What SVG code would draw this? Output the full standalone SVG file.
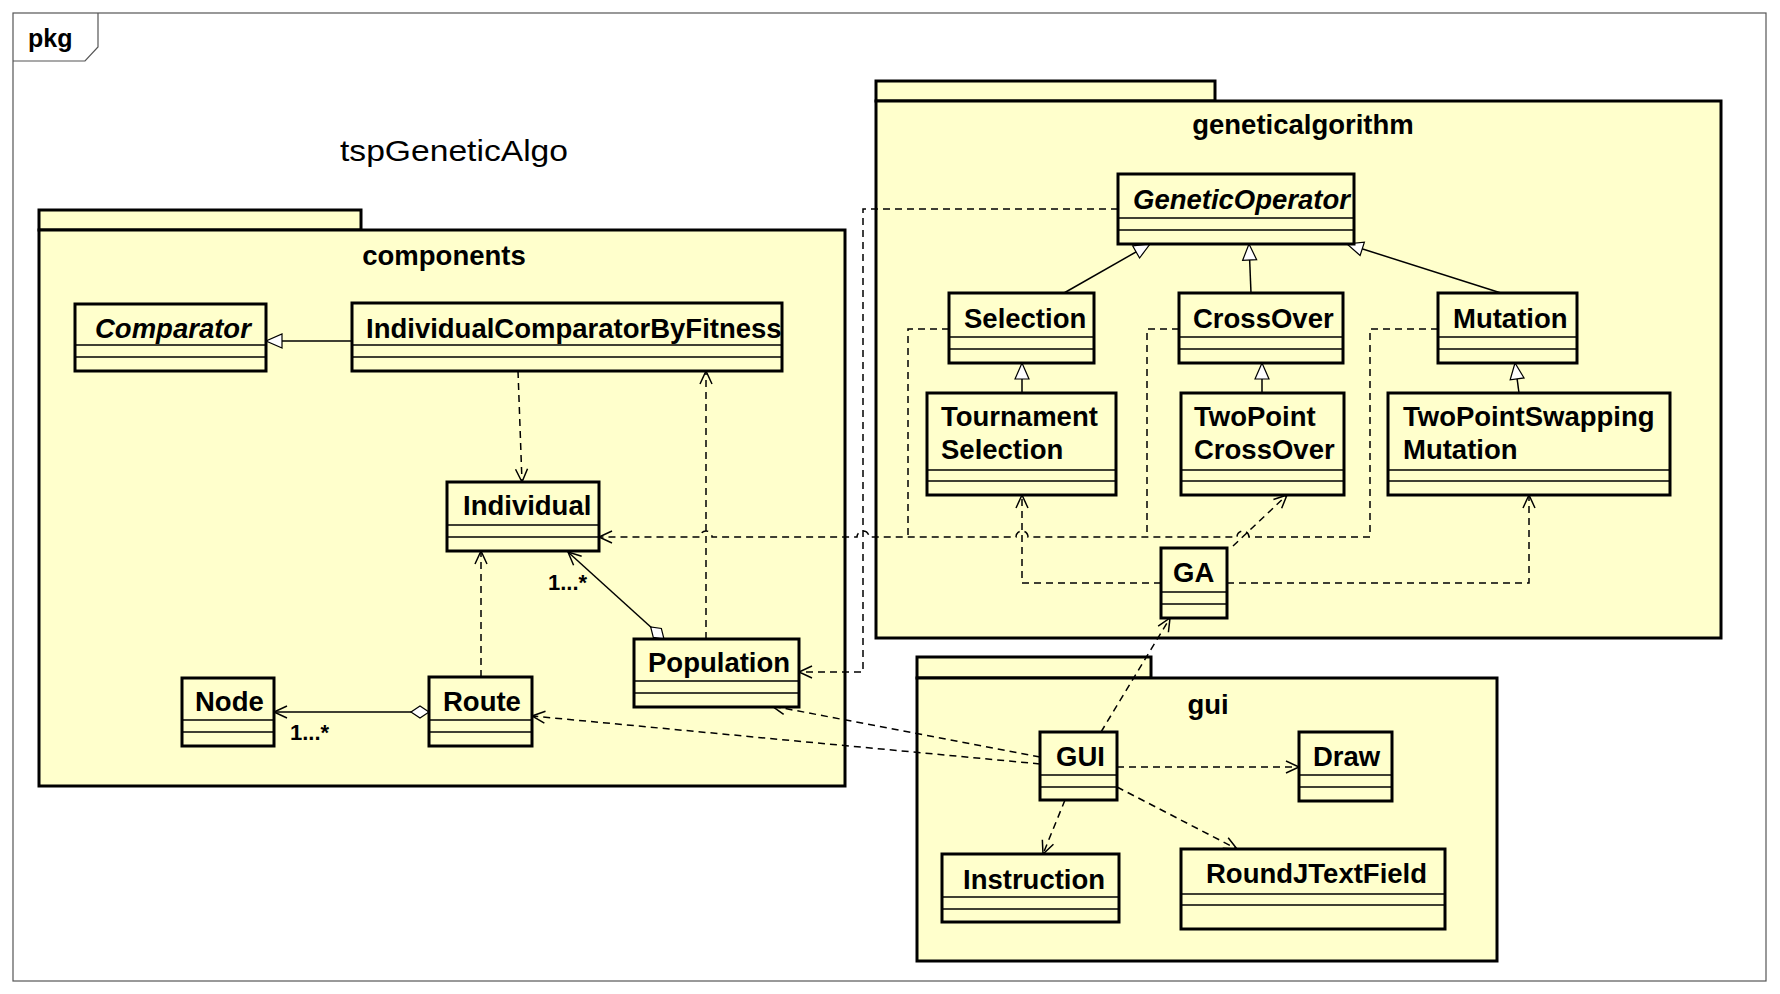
<svg xmlns="http://www.w3.org/2000/svg" width="1780" height="994" viewBox="0 0 1780 994">
  <style>
    .frame { fill: #ffffff; stroke: #555555; stroke-width: 1.2; }
    .pkg { fill: #ffffcc; stroke: #000000; stroke-width: 3; }
    .cls { fill: #ffffcc; stroke: #000000; stroke-width: 3; }
    .sep { stroke: #000000; stroke-width: 1.5; }
    .name { font-family: "Liberation Sans", Arial, sans-serif; font-weight: bold; font-size: 27.5px; fill: #000000; }
    .abstract { font-style: italic; }
    .plabel { font-family: "Liberation Sans", Arial, sans-serif; font-weight: bold; font-size: 27.5px; fill: #000000; text-anchor: middle; }
    .mult { font-family: "Liberation Sans", Arial, sans-serif; font-weight: bold; font-size: 22px; fill: #000000; }
    .dep { fill: none; stroke: #000000; stroke-width: 1.5; stroke-dasharray: 7 5; marker-end: url(#open); }
    .dashed { fill: none; stroke: #000000; stroke-width: 1.5; stroke-dasharray: 7 5; }
    .gen { fill: none; stroke: #000000; stroke-width: 1.5; marker-end: url(#tri); }
    .agg { fill: none; stroke: #000000; stroke-width: 1.5; marker-start: url(#diamond); marker-end: url(#open); }
  </style>
  <defs>
    <marker id="open" markerUnits="userSpaceOnUse" markerWidth="20" markerHeight="20" refX="13" refY="6" orient="auto" overflow="visible">
      <path d="M0,0 L13,6 L0,12" fill="none" stroke="#000000" stroke-width="1.5"/>
    </marker>
    <marker id="tri" markerUnits="userSpaceOnUse" markerWidth="20" markerHeight="20" refX="16" refY="7" orient="auto" overflow="visible">
      <path d="M0,0 L16,7 L0,14 Z" fill="#ffffff" stroke="#000000" stroke-width="1.2"/>
    </marker>
    <marker id="diamond" markerUnits="userSpaceOnUse" markerWidth="22" markerHeight="14" refX="0" refY="6" orient="auto" overflow="visible">
      <path d="M0,6 L9,0 L18,6 L9,12 Z" fill="#ffffff" stroke="#000000" stroke-width="1.2"/>
    </marker>
  </defs>

  <rect width="1780" height="994" fill="#ffffff"/>

  <!-- diagram frame -->
  <g id="frame">
    <rect class="frame" x="13" y="13" width="1753" height="968"/>
    <path d="M13,61 L85,61 L98,47 L98,13" fill="none" stroke="#555555" stroke-width="1.2"/>
    <text x="28" y="47" font-family="Liberation Sans, Arial, sans-serif" font-weight="bold" font-size="25">pkg</text>
    <text x="340" y="161" font-family="Liberation Sans, Arial, sans-serif" font-size="29" textLength="228" lengthAdjust="spacingAndGlyphs">tspGeneticAlgo</text>
  </g>

  <!-- packages -->
  <g id="pkg-components">
    <rect class="pkg" x="39" y="210" width="322" height="20"/>
    <rect class="pkg" x="39" y="230" width="806" height="556"/>
    <text class="plabel" x="444" y="265">components</text>
  </g>
  <g id="pkg-geneticalgorithm">
    <rect class="pkg" x="876" y="81" width="339" height="20"/>
    <rect class="pkg" x="876" y="101" width="845" height="537"/>
    <text class="plabel" x="1303" y="134">geneticalgorithm</text>
  </g>
  <g id="pkg-gui">
    <rect class="pkg" x="917" y="657" width="234" height="21"/>
    <rect class="pkg" x="917" y="678" width="580" height="283"/>
    <text class="plabel" x="1208" y="714">gui</text>
  </g>

  <!-- connectors -->
  <g id="connectors">
    <!-- generalizations -->
    <path class="gen" d="M352,341 L266,341"/>
    <path class="gen" d="M1064,293 L1150,244"/>
    <path class="gen" d="M1251,293 L1249,244"/>
    <path class="gen" d="M1501,293 L1347,244"/>
    <path class="gen" d="M1022,393 L1022,363"/>
    <path class="gen" d="M1262,393 L1262,363"/>
    <path class="gen" d="M1519,393 L1515,363"/>

    <!-- aggregations -->
    <path class="agg" d="M664,639 L568,552"/>
    <path class="agg" d="M429,712 L274,712"/>
    <text class="mult" x="548" y="590">1...*</text>
    <text class="mult" x="290" y="740">1...*</text>

    <!-- dependencies inside components -->
    <path class="dep" d="M518,371 L522,482"/>
    <path class="dep" d="M706,639 L706,371"/>
    <path class="dep" d="M481,677 L481,551"/>

    <!-- operators to Individual, with line jumps -->
    <path class="dep" d="M1438,329 L1370,329 L1370,537 L1249,537 A6,6 0 0 0 1237,537 L1028,537 A6,6 0 0 0 1016,537 L869,537 A6,6 0 0 0 857,537 L712,537 A6,6 0 0 0 700,537 L599,537"/>
    <path class="dashed" d="M1179,329 L1147,329 L1147,537"/>
    <path class="dashed" d="M949,329 L908,329 L908,537"/>

    <!-- GeneticOperator to Population -->
    <path class="dep" d="M1118,209 L863,209 L863,672 L799,672"/>

    <!-- GA dependencies -->
    <path class="dep" d="M1161,583 L1022,583 L1022,495"/>
    <path class="dep" d="M1227,583 L1529,583 L1529,495"/>
    <path class="dep" d="M1233,546 L1287,495"/>

    <!-- GUI dependencies -->
    <path class="dep" d="M1101,732 L1170,618"/>
    <path class="dep" d="M1040,757 L772,706"/>
    <path class="dep" d="M1040,764 L532,716"/>
    <path class="dep" d="M1117,767 L1299,767"/>
    <path class="dep" d="M1117,787 L1237,849"/>
    <path class="dep" d="M1065,800 L1043,854"/>
  </g>

  <!-- classes: components -->
  <g id="Comparator">
    <rect class="cls" x="75" y="304" width="191" height="67"/>
    <line class="sep" x1="75" y1="345" x2="266" y2="345"/>
    <line class="sep" x1="75" y1="357" x2="266" y2="357"/>
    <text class="name abstract" x="95" y="338">Comparator</text>
  </g>
  <g id="IndividualComparatorByFitness">
    <rect class="cls" x="352" y="303" width="430" height="68"/>
    <line class="sep" x1="352" y1="345" x2="782" y2="345"/>
    <line class="sep" x1="352" y1="357" x2="782" y2="357"/>
    <text class="name" x="366" y="338">IndividualComparatorByFitness</text>
  </g>
  <g id="Individual">
    <rect class="cls" x="447" y="482" width="152" height="69"/>
    <line class="sep" x1="447" y1="525" x2="599" y2="525"/>
    <line class="sep" x1="447" y1="537" x2="599" y2="537"/>
    <text class="name" x="463" y="515">Individual</text>
  </g>
  <g id="Population">
    <rect class="cls" x="634" y="639" width="165" height="68"/>
    <line class="sep" x1="634" y1="681" x2="799" y2="681"/>
    <line class="sep" x1="634" y1="693" x2="799" y2="693"/>
    <text class="name" x="648" y="672">Population</text>
  </g>
  <g id="Node">
    <rect class="cls" x="182" y="678" width="92" height="68"/>
    <line class="sep" x1="182" y1="720" x2="274" y2="720"/>
    <line class="sep" x1="182" y1="732" x2="274" y2="732"/>
    <text class="name" x="195" y="711">Node</text>
  </g>
  <g id="Route">
    <rect class="cls" x="429" y="677" width="103" height="69"/>
    <line class="sep" x1="429" y1="720" x2="532" y2="720"/>
    <line class="sep" x1="429" y1="732" x2="532" y2="732"/>
    <text class="name" x="443" y="711">Route</text>
  </g>

  <!-- classes: geneticalgorithm -->
  <g id="GeneticOperator">
    <rect class="cls" x="1118" y="174" width="236" height="70"/>
    <line class="sep" x1="1118" y1="218" x2="1354" y2="218"/>
    <line class="sep" x1="1118" y1="230" x2="1354" y2="230"/>
    <text class="name abstract" x="1133" y="209">GeneticOperator</text>
  </g>
  <g id="Selection">
    <rect class="cls" x="949" y="293" width="145" height="70"/>
    <line class="sep" x1="949" y1="337" x2="1094" y2="337"/>
    <line class="sep" x1="949" y1="349" x2="1094" y2="349"/>
    <text class="name" x="964" y="328">Selection</text>
  </g>
  <g id="CrossOver">
    <rect class="cls" x="1179" y="293" width="164" height="70"/>
    <line class="sep" x1="1179" y1="337" x2="1343" y2="337"/>
    <line class="sep" x1="1179" y1="349" x2="1343" y2="349"/>
    <text class="name" x="1193" y="328">CrossOver</text>
  </g>
  <g id="Mutation">
    <rect class="cls" x="1438" y="293" width="139" height="70"/>
    <line class="sep" x1="1438" y1="337" x2="1577" y2="337"/>
    <line class="sep" x1="1438" y1="349" x2="1577" y2="349"/>
    <text class="name" x="1453" y="328">Mutation</text>
  </g>
  <g id="TournamentSelection">
    <rect class="cls" x="927" y="393" width="189" height="102"/>
    <line class="sep" x1="927" y1="470" x2="1116" y2="470"/>
    <line class="sep" x1="927" y1="481" x2="1116" y2="481"/>
    <text class="name" x="941" y="426">Tournament</text>
    <text class="name" x="941" y="459">Selection</text>
  </g>
  <g id="TwoPointCrossOver">
    <rect class="cls" x="1181" y="393" width="163" height="102"/>
    <line class="sep" x1="1181" y1="470" x2="1344" y2="470"/>
    <line class="sep" x1="1181" y1="481" x2="1344" y2="481"/>
    <text class="name" x="1194" y="426">TwoPoint</text>
    <text class="name" x="1194" y="459">CrossOver</text>
  </g>
  <g id="TwoPointSwappingMutation">
    <rect class="cls" x="1388" y="393" width="282" height="102"/>
    <line class="sep" x1="1388" y1="470" x2="1670" y2="470"/>
    <line class="sep" x1="1388" y1="481" x2="1670" y2="481"/>
    <text class="name" x="1403" y="426">TwoPointSwapping</text>
    <text class="name" x="1403" y="459">Mutation</text>
  </g>
  <g id="GA">
    <rect class="cls" x="1161" y="548" width="66" height="70"/>
    <line class="sep" x1="1161" y1="592" x2="1227" y2="592"/>
    <line class="sep" x1="1161" y1="604" x2="1227" y2="604"/>
    <text class="name" x="1173" y="582">GA</text>
  </g>

  <!-- classes: gui -->
  <g id="GUI">
    <rect class="cls" x="1040" y="732" width="77" height="68"/>
    <line class="sep" x1="1040" y1="775" x2="1117" y2="775"/>
    <line class="sep" x1="1040" y1="787" x2="1117" y2="787"/>
    <text class="name" x="1056" y="766">GUI</text>
  </g>
  <g id="Draw">
    <rect class="cls" x="1299" y="732" width="93" height="69"/>
    <line class="sep" x1="1299" y1="775" x2="1392" y2="775"/>
    <line class="sep" x1="1299" y1="787" x2="1392" y2="787"/>
    <text class="name" x="1313" y="766">Draw</text>
  </g>
  <g id="Instruction">
    <rect class="cls" x="942" y="854" width="177" height="68"/>
    <line class="sep" x1="942" y1="897" x2="1119" y2="897"/>
    <line class="sep" x1="942" y1="909" x2="1119" y2="909"/>
    <text class="name" x="963" y="889">Instruction</text>
  </g>
  <g id="RoundJTextField">
    <rect class="cls" x="1181" y="849" width="264" height="80"/>
    <line class="sep" x1="1181" y1="894" x2="1445" y2="894"/>
    <line class="sep" x1="1181" y1="905" x2="1445" y2="905"/>
    <text class="name" x="1206" y="883">RoundJTextField</text>
  </g>
</svg>
